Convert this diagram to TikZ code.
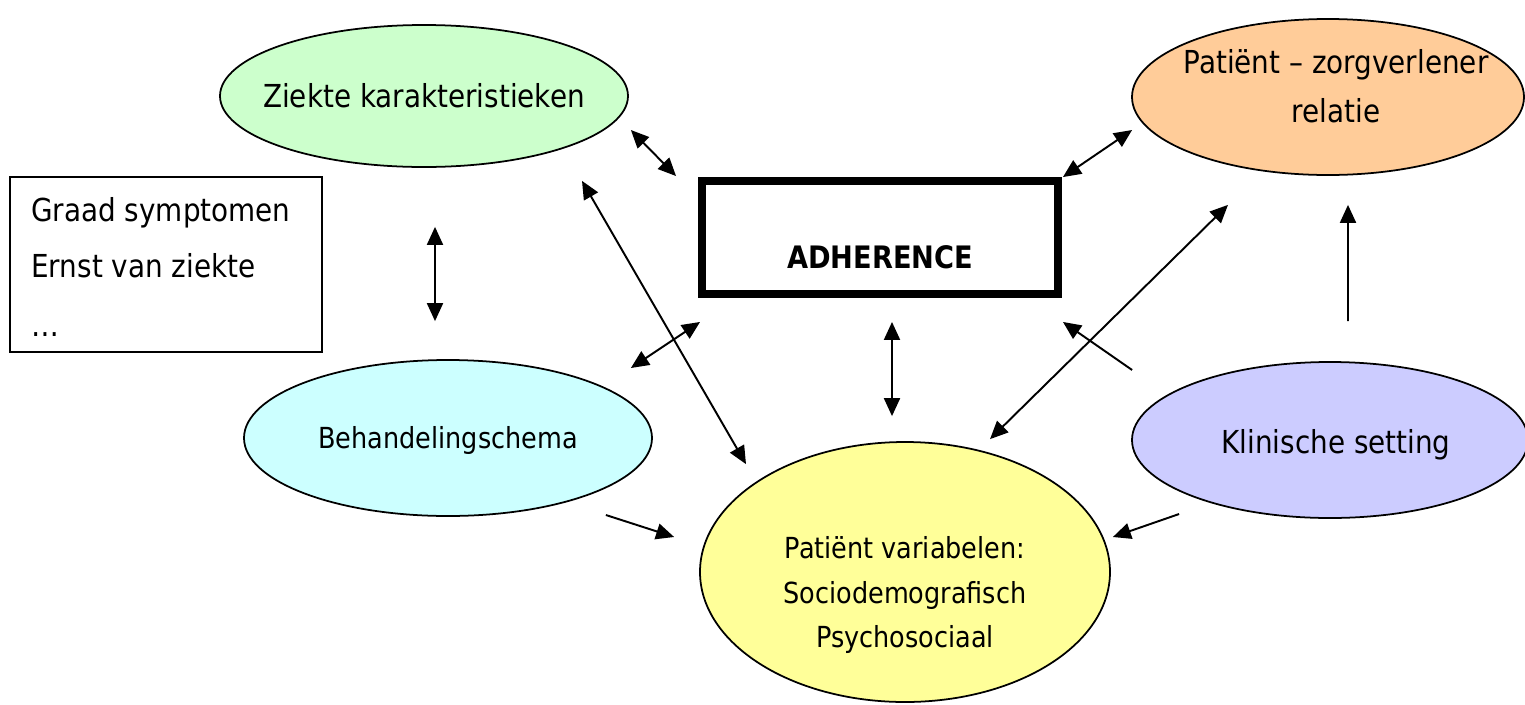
\documentclass[tikz,border=0pt]{standalone}
\usepackage{fontspec}
\setmainfont{DejaVu Sans}[FakeStretch=0.88]
\usetikzlibrary{calc,shapes.geometric,arrows.meta}

\definecolor{ziektegreen}{HTML}{CCFFCC}
\definecolor{relatieorange}{HTML}{FFCC99}
\definecolor{schemacyan}{HTML}{CCFFFF}
\definecolor{patientyellow}{HTML}{FFFF99}
\definecolor{settingpurple}{HTML}{CCCCFF}

\tikzset{
  factor/.style={draw,ellipse,line width=1pt,inner sep=0pt},
  bigtext/.style={font=\fontsize{18}{22}\selectfont},
  smalltext/.style={font=\fontsize{16.5}{20}\selectfont},
  link/.style={line width=1.1pt,>={Triangle[length=3.6mm,width=3.2mm]}}
}

\begin{document}
\begin{tikzpicture}
\useasboundingbox (0,0) rectangle (30.5,-14.08);

\draw node [factor,fill=ziektegreen,minimum width=81.6mm,minimum height=28.4mm] (ziekte) at (8.48,-1.92) {};
\draw node [bigtext] at (ziekte) {Ziekte karakteristieken};
\draw node [factor,fill=relatieorange,minimum width=78.4mm,minimum height=31.2mm] (relatie) at (26.56,-1.94) {};
\draw node [align=center,bigtext,text depth=0pt] at ($ (relatie) + (0.16,0.22)$) {Patiënt -- zorgverlener\\[2mm]relatie};
\draw node [draw,rectangle,line width=4.5pt,minimum width=71.2mm,minimum height=22.6mm] (adh) at (17.6,-4.75) {};
\draw node [font=\fontsize{17.6}{21}\selectfont\bfseries] at ($ (adh) - (0,0.4)$) {ADHERENCE};

\draw node [draw,rectangle,line width=1pt,minimum width=62.4mm,minimum height=35mm] (kenmerk) at (3.32,-5.29) {};
\draw node [anchor=base west,bigtext] at ($ (kenmerk.north west) + (0.32,-0.9)$) {Graad symptomen};
\draw node [anchor=base west,bigtext] at ($ (kenmerk.north west) + (0.32,-2.02)$) {Ernst van ziekte};
\draw node [anchor=base west,bigtext] at ($ (kenmerk.north west) + (0.32,-3.2)$) {\dots};

\draw node [factor,fill=schemacyan,minimum width=81.6mm,minimum height=31.2mm] (schema) at (8.96,-8.76) {};
\draw node [smalltext] at ($ (schema) + (0,-0.04)$) {Behandelingschema};
\draw node [factor,fill=patientyellow,minimum width=82mm,minimum height=52mm] (patient) at (18.1,-11.44) {};
\draw node [align=center,smalltext] at ($ (patient) - (0,0.46)$) {Patiënt variabelen:\\[1.8mm]Sociodemografisch\\[1.8mm]Psychosociaal};
\draw node [factor,fill=settingpurple,minimum width=79.2mm,minimum height=31.2mm] (setting) at (26.6,-8.8) {};
\draw node [bigtext] at ($ (setting) + (0.12,-0.1)$) {Klinische setting};

% double arrows
\draw[link,<->] ($ (ziekte.east) + (0.04,-0.68)$) -- ($ (adh.north west) + (-0.44,0.02)$);
\draw[link,<->] ($ (ziekte.south) + (3.16,-0.26)$) -- ($ (patient.north) + (-3.18,-0.46)$);
\draw[link,<->] ($ (ziekte.south) + (0.22,-1.18)$) -- ($ (schema.north) + (-0.26,0.76)$);
\draw[link,<->] ($ (schema.east) + (-0.44,1.4)$) -- ($ (adh.south west) + (0.04,-0.48)$);
\draw[link,<->] ($ (adh.south) + (0.24,-0.48)$) -- ($ (patient.north) + (-0.26,0.5)$);
\draw[link,<->] ($ (relatie.west) + (0.02,-0.66)$) -- ($ (adh.north east) + (0.02,0)$);
\draw[link,<->] ($ (patient.north) + (1.7,0.04)$) -- ($ (relatie.south) + (-2,-0.58)$);

% single arrows
\draw[link,->] ($ (setting.west) + (0.02,1.4)$) -- ($ (adh.south east) + (0.02,-0.48)$);
\draw[link,->] ($ (setting.north) + (0.36,0.8)$) -- ($ (relatie.south) + (0.4,-0.58)$);
\draw[link,->] ($ (schema.east) + (-0.94,-1.54)$) -- ($ (patient.west) + (-0.5,0.7)$);
\draw[link,->] ($ (setting.west) + (0.96,-1.48)$) -- ($ (patient.east) + (0.04,0.7)$);

\end{tikzpicture}
\end{document}
